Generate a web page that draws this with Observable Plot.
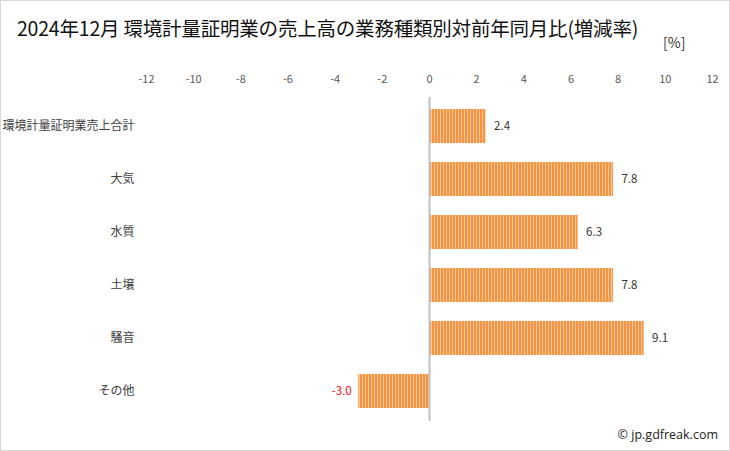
<!DOCTYPE html>
<html><head><meta charset="utf-8">
<script src="https://cdn.jsdelivr.net/npm/d3@7"></script>
<script src="https://cdn.jsdelivr.net/npm/@observablehq/plot@0.6"></script>
<style>
body{margin:0;background:#fff;}
#wrap{position:relative;width:730px;height:451px;font-family:"Noto Sans CJK JP",sans-serif;}
#frame{position:absolute;left:0;top:0;width:728px;height:449px;border:1px solid #d9d9d9;pointer-events:none;}
#title{position:absolute;left:17px;top:14px;font-size:19.5px;line-height:28px;color:#111;white-space:nowrap;letter-spacing:-0.2px;}
#unit{position:absolute;left:663px;top:32px;font-size:14px;line-height:20px;color:#333;}
#credit{position:absolute;right:12px;top:426px;font-size:12.5px;color:#222;font-family:"Open Sans",sans-serif;}
</style></head>
<body><div id="wrap"><div id="chart"></div>
<div id="title">2024年12月 環境計量証明業の売上高の業務種類別対前年同月比(増減率)</div>
<div id="unit">[%]</div>
<div id="credit">© jp.gdfreak.com</div>
<div id="frame"></div></div>
<script>
const categories = ["環境計量証明業売上合計","大気","水質","土壌","騒音","その他"];
const values = [2.4,7.8,6.3,7.8,9.1,-3.0];
const xTicks = [-12,-10,-8,-6,-4,-2,0,2,4,6,8,10,12];
const data = categories.map((c,i)=>({category:c,value:values[i]}));
const pos = data.filter(d=>d.value>=0);
const neg = data.filter(d=>d.value<0);

const chart = Plot.plot({
  width:730, height:451,
  marginLeft:146, marginRight:18, marginTop:87, marginBottom:22,
  style:{fontFamily:"'Noto Sans CJK JP',sans-serif", background:"transparent"},
  x:{domain:[-12,12], ticks:xTicks, label:null},
  y:{domain:categories, padding:0.366, label:null},
  marks:[
    Plot.axisX({anchor:"top", ticks:xTicks, tickSize:0, tickPadding:5, fontSize:11, color:"#595959", label:null, tickFormat:d=>String(d)}),
    Plot.axisY({tickSize:0, tickPadding:12, fontSize:12, color:"#404040", label:null}),
    Plot.barX(data,{y:"category", x:"value", fill:"url(#stripes)"}),
    Plot.ruleX([0],{stroke:"#bfbfbf", strokeWidth:2, insetTop:10, insetBottom:8}),
    Plot.text(pos,{y:"category", x:"value", text:d=>d.value.toFixed(1), textAnchor:"start", dx:8, fill:"#333", fontSize:11.5}),
    Plot.text(neg,{y:"category", x:"value", text:d=>d.value.toFixed(1), textAnchor:"end", dx:-7, fill:"#ff0000", fontSize:11.5}),
  ]
});
const ns="http://www.w3.org/2000/svg";
const defs=document.createElementNS(ns,"defs");
defs.innerHTML='<pattern id="stripes" patternUnits="userSpaceOnUse" width="3" height="4"><rect width="3" height="4" fill="#fcc79a"/><rect width="2" height="4" fill="#f7923f"/></pattern>';
chart.insertBefore(defs, chart.firstChild);
document.getElementById("chart").appendChild(chart);
</script></body></html>
